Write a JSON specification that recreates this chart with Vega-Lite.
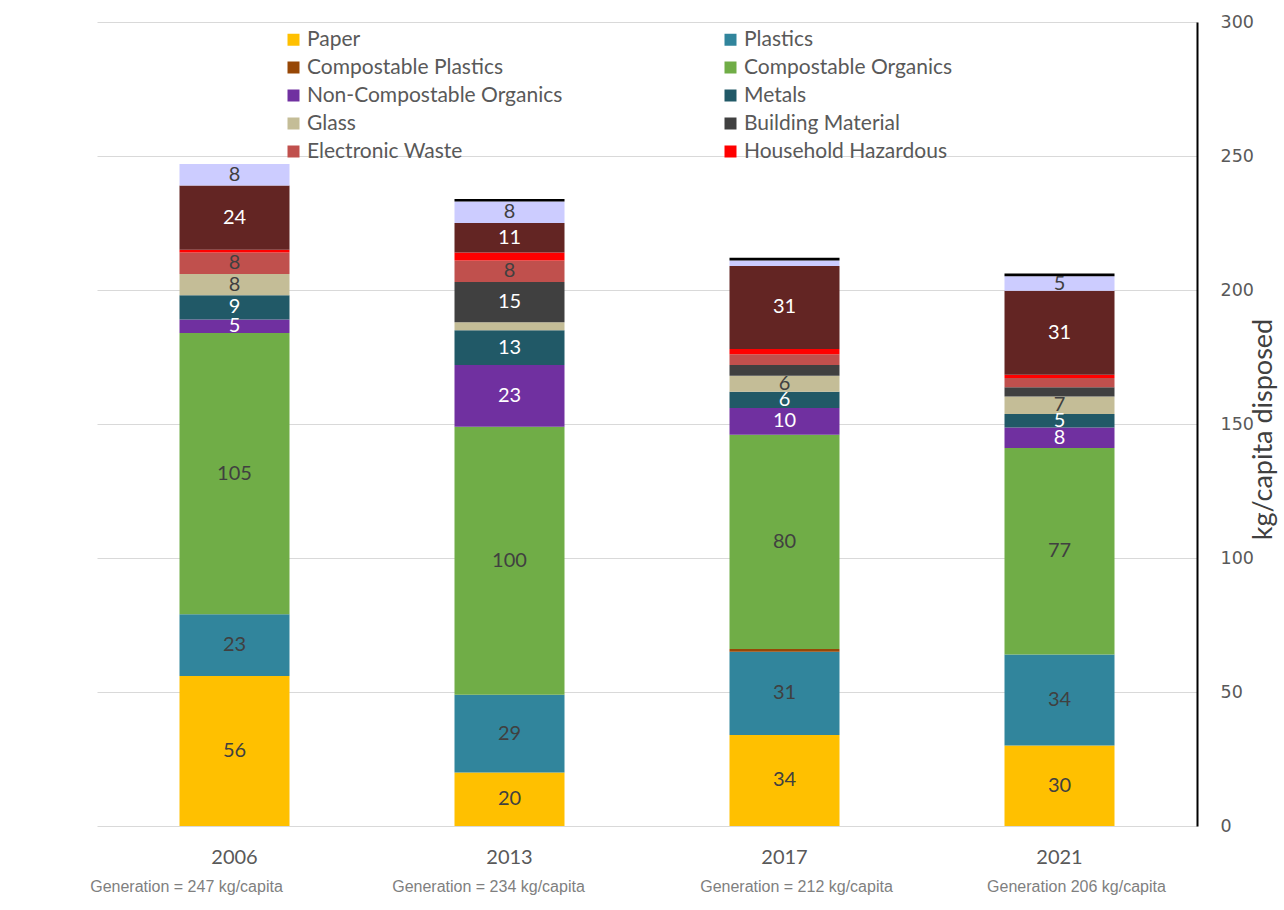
{
  "$schema": "https://vega.github.io/schema/vega-lite/v6.json",
  "width": 1100,
  "height": 804,
  "autosize": {"type": "none"},
  "padding": {"left": 97, "top": 22, "right": 87, "bottom": 84},
  "background": "white",
  "config": {"view": {"stroke": null}, "font": "Lato"},
  "data": {
    "values": [
      {"year": "2006", "category": "Paper", "value": 56, "label": "56"},
      {"year": "2006", "category": "Plastics", "value": 23, "label": "23"},
      {"year": "2006", "category": "Compostable Organics", "value": 105, "label": "105"},
      {"year": "2006", "category": "Non-Compostable Organics", "value": 5, "label": "5"},
      {"year": "2006", "category": "Metals", "value": 9, "label": "9"},
      {"year": "2006", "category": "Glass", "value": 8, "label": "8"},
      {"year": "2006", "category": "Electronic Waste", "value": 8, "label": "8"},
      {"year": "2006", "category": "Household Hazardous", "value": 1, "label": ""},
      {"year": "2006", "category": "Other", "value": 24, "label": "24"},
      {"year": "2006", "category": "Textiles", "value": 8, "label": "8"},

      {"year": "2013", "category": "Paper", "value": 20, "label": "20"},
      {"year": "2013", "category": "Plastics", "value": 29, "label": "29"},
      {"year": "2013", "category": "Compostable Organics", "value": 100, "label": "100"},
      {"year": "2013", "category": "Non-Compostable Organics", "value": 23, "label": "23"},
      {"year": "2013", "category": "Metals", "value": 13, "label": "13"},
      {"year": "2013", "category": "Glass", "value": 3, "label": ""},
      {"year": "2013", "category": "Building Material", "value": 15, "label": "15"},
      {"year": "2013", "category": "Electronic Waste", "value": 8, "label": "8"},
      {"year": "2013", "category": "Household Hazardous", "value": 3, "label": ""},
      {"year": "2013", "category": "Other", "value": 11, "label": "11"},
      {"year": "2013", "category": "Textiles", "value": 8, "label": "8"},
      {"year": "2013", "category": "Special Waste", "value": 1, "label": ""},

      {"year": "2017", "category": "Paper", "value": 34, "label": "34"},
      {"year": "2017", "category": "Plastics", "value": 31, "label": "31"},
      {"year": "2017", "category": "Compostable Plastics", "value": 1, "label": ""},
      {"year": "2017", "category": "Compostable Organics", "value": 80, "label": "80"},
      {"year": "2017", "category": "Non-Compostable Organics", "value": 10, "label": "10"},
      {"year": "2017", "category": "Metals", "value": 6, "label": "6"},
      {"year": "2017", "category": "Glass", "value": 6, "label": "6"},
      {"year": "2017", "category": "Building Material", "value": 4, "label": ""},
      {"year": "2017", "category": "Electronic Waste", "value": 4, "label": ""},
      {"year": "2017", "category": "Household Hazardous", "value": 2, "label": ""},
      {"year": "2017", "category": "Other", "value": 31, "label": "31"},
      {"year": "2017", "category": "Textiles", "value": 2, "label": ""},
      {"year": "2017", "category": "Special Waste", "value": 1, "label": ""},

      {"year": "2021", "category": "Paper", "value": 30, "label": "30"},
      {"year": "2021", "category": "Plastics", "value": 34, "label": "34"},
      {"year": "2021", "category": "Compostable Organics", "value": 77, "label": "77"},
      {"year": "2021", "category": "Non-Compostable Organics", "value": 7.7, "label": "8"},
      {"year": "2021", "category": "Metals", "value": 5, "label": "5"},
      {"year": "2021", "category": "Glass", "value": 6.6, "label": "7"},
      {"year": "2021", "category": "Building Material", "value": 3.4, "label": ""},
      {"year": "2021", "category": "Electronic Waste", "value": 3.5, "label": ""},
      {"year": "2021", "category": "Household Hazardous", "value": 1.2, "label": ""},
      {"year": "2021", "category": "Other", "value": 31.3, "label": "31"},
      {"year": "2021", "category": "Textiles", "value": 5.4, "label": "5"},
      {"year": "2021", "category": "Special Waste", "value": 1.1, "label": ""}
    ]
  },
  "transform": [
    {"stack": "value", "groupby": ["year"], "as": ["y0", "y1"]}
  ],
  "layer": [
    {
      "mark": {"type": "bar"},
      "encoding": {
        "x": {
          "field": "year",
          "type": "ordinal",
          "scale": {"paddingInner": 0.6, "paddingOuter": 0.3},
          "axis": {
            "title": null,
            "orient": "bottom",
            "domain": false,
            "ticks": false,
            "labelAngle": 0,
            "labelFont": "Lato",
            "labelFontSize": 20,
            "labelColor": "#595959",
            "labelPadding": 21
          }
        },
        "y": {
          "field": "y0",
          "type": "quantitative",
          "scale": {"domain": [0, 300], "nice": false},
          "axis": {
            "orient": "right",
            "title": "kg/capita disposed",
            "values": [0, 50, 100, 150, 200, 250, 300],
            "domain": true,
            "domainColor": "#000000",
            "domainWidth": 2,
            "ticks": false,
            "grid": true,
            "gridColor": "#d9d9d9",
            "gridWidth": 1,
            "labelFont": "DejaVu Sans",
            "labelFontSize": 17.5,
            "labelColor": "#595959",
            "labelPadding": 23,
            "titleFont": "Lato",
            "titleFontSize": 27,
            "titleFontWeight": "normal",
            "titleColor": "#404040",
            "titleAngle": 270,
            "titleBaseline": "middle",
            "titleAlign": "center",
            "titleX": 66,
            "titleY": 407
          }
        },
        "y2": {"field": "y1"},
        "color": {
          "field": "category",
          "type": "nominal",
          "scale": {
            "domain": ["Paper", "Plastics", "Compostable Plastics", "Compostable Organics", "Non-Compostable Organics", "Metals", "Glass", "Building Material", "Electronic Waste", "Household Hazardous", "Other", "Textiles", "Special Waste"],
            "range": ["#FFC000", "#31859C", "#974706", "#70AD47", "#7030A0", "#215967", "#C4BD97", "#404040", "#C0504D", "#FF0000", "#632523", "#CCCCFF", "#000000"]
          },
          "legend": {
            "title": null,
            "orient": "none",
            "legendX": 186,
            "legendY": 7,
            "columns": 2,
            "columnPadding": 157,
            "rowPadding": 6,
            "padding": 0,
            "values": ["Paper", "Compostable Plastics", "Non-Compostable Organics", "Glass", "Electronic Waste", "Plastics", "Compostable Organics", "Metals", "Building Material", "Household Hazardous"],
            "symbolType": "square",
            "symbolSize": 144,
            "symbolStrokeWidth": 0,
            "symbolOpacity": 1,
            "labelFont": "Lato",
            "labelFontSize": 21,
            "labelColor": "#595959",
            "labelOffset": 3,
            "labelLimit": 400
          }
        }
      }
    },
    {
      "transform": [
        {"filter": "datum.label != ''"},
        {"fold": ["y0", "y1"], "as": ["edge", "pos"]},
        {"aggregate": [{"op": "mean", "field": "pos", "as": "mid"}], "groupby": ["year", "category", "label"]}
      ],
      "mark": {"type": "text", "font": "Lato", "fontSize": 20, "baseline": "middle", "align": "center"},
      "encoding": {
        "x": {
          "field": "year",
          "type": "ordinal",
          "axis": {
            "title": null,
            "orient": "bottom",
            "domain": false,
            "ticks": false,
            "grid": false,
            "labelAngle": 0,
            "labelFont": "Liberation Sans",
            "labelFontSize": 16,
            "labelColor": "#7f7f7f",
            "labelPadding": 52,
            "labelLimit": 400,
            "labelOffset": {
              "condition": [
                {"test": "datum.value == '2006'", "value": -48},
                {"test": "datum.value == '2013'", "value": -21},
                {"test": "datum.value == '2017'", "value": 12}
              ],
              "value": 17
            },
            "labelExpr": "datum.value == '2006' ? 'Generation = 247 kg/capita' : datum.value == '2013' ? 'Generation = 234 kg/capita' : datum.value == '2017' ? 'Generation = 212 kg/capita' : 'Generation 206 kg/capita'"
          }
        },
        "y": {"field": "mid", "type": "quantitative"},
        "text": {"field": "label"},
        "color": {
          "condition": {
            "test": "indexof(['Non-Compostable Organics', 'Metals', 'Building Material', 'Other'], datum.category) >= 0",
            "value": "#ffffff"
          },
          "value": "#404040"
        }
      }
    }
  ],
  "resolve": {"axis": {"x": "independent"}}
}
